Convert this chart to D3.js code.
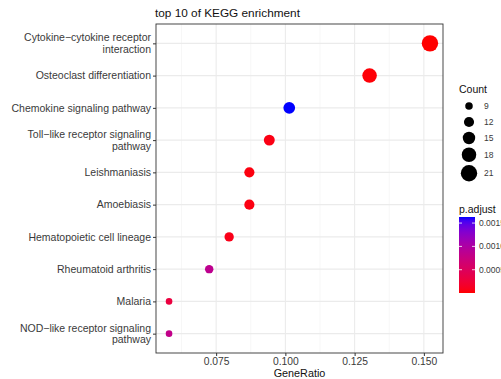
<!DOCTYPE html>
<html>
<head>
<meta charset="utf-8">
<script src="https://cdn.jsdelivr.net/npm/d3@7"></script>
<style>
  body { margin: 0; background: #fff; }
  svg { display: block; font-family: "Liberation Sans", Arial, sans-serif; }
</style>
</head>
<body>
<div id="chart"></div>
<script>
// KEGG top 10 (top to bottom)
const pathways = [
    'Cytokine\u2212cytokine receptor\ninteraction',
    'Osteoclast differentiation',
    'Chemokine signaling pathway',
    'Toll\u2212like receptor signaling\npathway',
    'Leishmaniasis',
    'Amoebiasis',
    'Hematopoietic cell lineage',
    'Rheumatoid arthritis',
    'Malaria',
    'NOD\u2212like receptor signaling\npathway'
];
const geneRatio = [0.1522, 0.1304, 0.1014, 0.0942, 0.0870, 0.0870, 0.0797, 0.0725, 0.0580, 0.0580];
const counts = [21, 18, 14, 13, 12, 12, 11, 10, 8, 8];
const pAdjust = [0.000001, 0.00002, 0.00163, 0.00006, 0.00004, 0.00005, 0.00008, 0.00086, 0.00030, 0.00082];

const xTicks = [0.075, 0.100, 0.125, 0.150];
const countBreaks = [9, 12, 15, 18, 21];
const pBreaks = [0.0005, 0.0010, 0.0015];

const width = 501, height = 379;
const panel = { left: 156, right: 443, top: 24, bottom: 353 };
const textCol = '#3a3a3a';

const svg = d3.select('#chart').append('svg')
    .attr('width', width)
    .attr('height', height);

// scales
const xMin = d3.min(geneRatio), xMax = d3.max(geneRatio);
const pad = (xMax - xMin) * 0.05;
const x = d3.scaleLinear()
    .domain([xMin - pad, xMax + pad])
    .range([panel.left, panel.right]);

const y = d3.scalePoint()
    .domain(pathways)
    .range([panel.top, panel.bottom])
    .padding(0.6);

const r = d3.scaleSqrt()
    .domain(d3.extent(counts))
    .range([3.3, 8.2]);

const color = d3.scaleLinear()
    .domain(d3.extent(pAdjust))
    .range(['red', 'blue'])
    .interpolate(d3.interpolateLab);

// grid
const grid = svg.append('g');
const minorTicks = d3.range(xTicks.length + 1).map(i => xTicks[0] - 0.0125 + i * 0.025)
    .filter(v => x(v) > panel.left && x(v) < panel.right);

grid.selectAll('.minor')
    .data(minorTicks)
    .join('line')
    .attr('x1', d => x(d)).attr('x2', d => x(d))
    .attr('y1', panel.top).attr('y2', panel.bottom)
    .attr('stroke', '#f2f2f2')
    .attr('stroke-width', 0.6);

grid.selectAll('.vmajor')
    .data(xTicks)
    .join('line')
    .attr('x1', d => x(d)).attr('x2', d => x(d))
    .attr('y1', panel.top).attr('y2', panel.bottom)
    .attr('stroke', '#ebebeb')
    .attr('stroke-width', 1.1);

grid.selectAll('.hmajor')
    .data(pathways)
    .join('line')
    .attr('x1', panel.left).attr('x2', panel.right)
    .attr('y1', d => y(d)).attr('y2', d => y(d))
    .attr('stroke', '#ebebeb')
    .attr('stroke-width', 1.1);

// points
const rows = pathways.map((p, i) => ({
    pathway: p, ratio: geneRatio[i], count: counts[i], p: pAdjust[i]
}));

svg.append('g')
    .selectAll('circle')
    .data(rows)
    .join('circle')
    .attr('cx', d => x(d.ratio))
    .attr('cy', d => y(d.pathway))
    .attr('r', d => r(d.count))
    .attr('fill', d => color(d.p));

// panel border
svg.append('rect')
    .attr('x', panel.left).attr('y', panel.top)
    .attr('width', panel.right - panel.left)
    .attr('height', panel.bottom - panel.top)
    .attr('fill', 'none')
    .attr('stroke', '#333')
    .attr('stroke-width', 0.9);

// x axis
const xAxis = svg.append('g')
    .attr('transform', `translate(0,${panel.bottom})`)
    .call(d3.axisBottom(x).tickValues(xTicks).tickFormat(d3.format('.3f')).tickSizeOuter(0).tickSize(3).tickPadding(2));
xAxis.select('.domain').remove();
xAxis.selectAll('line').attr('stroke', '#333');
xAxis.selectAll('text')
    .attr('fill', textCol)
    .style('font-size', '10.3px')
    .style('font-family', '"Liberation Sans", Arial, sans-serif');

// y axis
const yAxis = svg.append('g')
    .attr('transform', `translate(${panel.left},0)`)
    .call(d3.axisLeft(y).tickSize(3).tickSizeOuter(0).tickFormat(''));
yAxis.select('.domain').remove();
yAxis.selectAll('line').attr('stroke', '#333');

const lineH = 11.5;
svg.append('g')
    .selectAll('text')
    .data(pathways)
    .join('text')
    .attr('text-anchor', 'end')
    .attr('fill', textCol)
    .style('font-size', '10.5px')
    .each(function (d) {
        const lines = d.split('\n');
        const y0 = y(d) - (lines.length - 1) * lineH / 2;
        d3.select(this).selectAll('tspan')
            .data(lines)
            .join('tspan')
            .attr('x', panel.left - 5)
            .attr('y', (l, i) => y0 + i * lineH)
            .attr('dy', '0.35em')
            .text(l => l);
    });

// titles
svg.append('text')
    .attr('x', 155).attr('y', 17)
    .style('font-size', '11.8px')
    .attr('fill', '#111')
    .text('top 10 of KEGG enrichment');

svg.append('text')
    .attr('x', (panel.left + panel.right) / 2)
    .attr('y', 377)
    .attr('text-anchor', 'middle')
    .style('font-size', '10.8px')
    .attr('fill', '#111')
    .text('GeneRatio');

// size legend
const sizeLeg = svg.append('g').attr('transform', 'translate(459,0)');
sizeLeg.append('text')
    .attr('x', 0).attr('y', 93)
    .style('font-size', '10.5px')
    .attr('fill', '#111')
    .text('Count');

let ky = 98;
countBreaks.forEach(c => {
    const h = Math.max(16, 2 * r(c) + 3);
    const cy = ky + h / 2;
    sizeLeg.append('circle')
        .attr('cx', 10).attr('cy', cy)
        .attr('r', r(c))
        .attr('fill', '#000');
    sizeLeg.append('text')
        .attr('x', 25).attr('y', cy)
        .attr('dy', '0.35em')
        .style('font-size', '8.5px')
        .attr('fill', textCol)
        .text(c);
    ky += h;
});

// colour legend
const colLeg = svg.append('g').attr('transform', 'translate(459,0)');
colLeg.append('text')
    .attr('x', 0).attr('y', 213)
    .style('font-size', '10.5px')
    .attr('fill', '#111')
    .text('p.adjust');

const barTop = 217, barBottom = 293, barW = 16;
const grad = svg.append('defs').append('linearGradient')
    .attr('id', 'pgrad')
    .attr('x1', 0).attr('y1', 1).attr('x2', 0).attr('y2', 0);
const [pLo, pHi] = color.domain();
d3.range(0, 1.0001, 0.05).forEach(t => {
    grad.append('stop')
        .attr('offset', t)
        .attr('stop-color', color(pLo + t * (pHi - pLo)));
});

colLeg.append('rect')
    .attr('x', 0).attr('y', barTop)
    .attr('width', barW).attr('height', barBottom - barTop)
    .attr('fill', 'url(#pgrad)');

const yBar = d3.scaleLinear().domain([pLo, pHi]).range([barBottom, barTop]);
pBreaks.forEach(b => {
    const by = yBar(b);
    colLeg.append('line')
        .attr('x1', 0).attr('x2', 3)
        .attr('y1', by).attr('y2', by)
        .attr('stroke', '#fff').attr('stroke-width', 0.8);
    colLeg.append('line')
        .attr('x1', barW - 3).attr('x2', barW)
        .attr('y1', by).attr('y2', by)
        .attr('stroke', '#fff').attr('stroke-width', 0.8);
    colLeg.append('text')
        .attr('x', barW + 4).attr('y', by)
        .attr('dy', '0.35em')
        .style('font-size', '8.5px')
        .attr('fill', textCol)
        .text(d3.format('.4f')(b));
});
</script>
</body>
</html>
